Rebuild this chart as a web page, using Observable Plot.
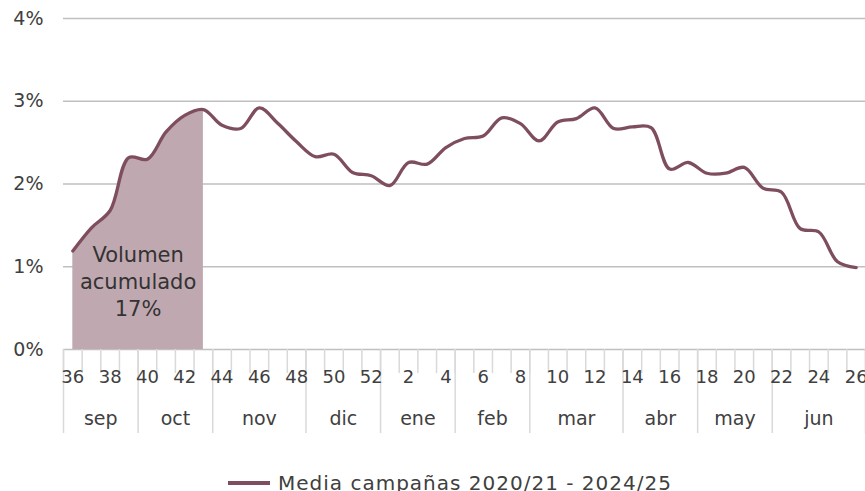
<!DOCTYPE html>
<html>
<head>
<meta charset="utf-8">
<script src="https://cdn.jsdelivr.net/npm/d3@7"></script>
<script src="https://cdn.jsdelivr.net/npm/@observablehq/plot@0.6"></script>
<style>
  html, body { margin: 0; padding: 0; background: #fff; }
  #legend { font-family: "DejaVu Sans", sans-serif; font-size: 20px; letter-spacing: 1px; color: #404040;
            height: 26px; line-height: 26px; display: flex; align-items: center; padding-left: 228px; }
  #legend .sw { width: 42px; height: 4px; background: #7e4e5e; margin-right: 8px; }
</style>
</head>
<body>
<div id="chart"></div>
<div id="legend"><span class="sw"></span><span>Media campañas 2020/21 - 2024/25</span></div>
<script>
const weeks = [36,37,38,39,40,41,42,43,44,45,46,47,48,49,50,51,52,1,2,3,4,5,6,7,8,9,10,11,12,13,14,15,16,17,18,19,20,21,22,23,24,25,26];
const values = [1.19,1.47,1.68,2.32,2.30,2.63,2.83,2.90,2.71,2.67,2.92,2.73,2.51,2.33,2.36,2.14,2.10,1.98,2.26,2.24,2.44,2.55,2.58,2.80,2.73,2.52,2.75,2.79,2.92,2.67,2.69,2.68,2.18,2.26,2.13,2.13,2.20,1.95,1.90,1.46,1.42,1.06,0.99];
const months = ["sep","oct","nov","dic","ene","feb","mar","abr","may","jun"];
const monthWeekCounts = [4,4,5,4,4,4,5,4,4,5];
const shadedUntilWeek = 43;
const annotation = "Volumen\nacumulado\n17%";
const yTicks = [0, 0.01, 0.02, 0.03, 0.04];

const data = weeks.map((w, i) => ({i, week: w, v: values[i] / 100}));
const shadeEnd = weeks.indexOf(shadedUntilWeek);
const shaded = data.filter(d => d.i <= shadeEnd);

// month boundaries and centers (in index units)
let acc = 0;
const monthData = months.map((m, k) => {
  const start = acc; acc += monthWeekCounts[k];
  return {m, start, end: acc, center: (start + acc - 1) / 2};
});
const monthBounds = [-0.5, ...monthData.map(d => d.end - 0.5)];
const weekBounds = d3.range(0, weeks.length + 1).map(k => k - 0.5);
const evenIdx = data.filter(d => d.week % 2 === 0).map(d => d.i);

const font = "DejaVu Sans, sans-serif";
const lineColor = "#7e4e5e";
const fillColor = "#c0a8b0";

const chart = Plot.plot({
  width: 865,
  height: 470,
  marginLeft: 63,
  marginRight: 0,
  marginTop: 18,
  marginBottom: 121,
  style: {fontFamily: font, fontSize: "18px", color: "#404040", background: "#fff", overflow: "visible"},
  x: {type: "linear", domain: [-0.5, weeks.length - 0.5], label: null},
  y: {domain: [0, 0.04], label: null},
  marks: [
    Plot.gridY(yTicks, {stroke: "#bfbfbf", strokeOpacity: 1, strokeWidth: 1.5}),
    Plot.axisY({ticks: yTicks, tickFormat: d3.format(".0%"), tickSize: 0, tickPadding: 20, fontSize: 19, fill: "#404040", label: null}),
    Plot.areaY(shaded, {x: "i", y: "v", curve: "catmull-rom", fill: fillColor}),
    Plot.line(data, {x: "i", y: "v", curve: "catmull-rom", stroke: lineColor, strokeWidth: 3.3}),
    Plot.text([annotation], {x: shadeEnd / 2, frameAnchor: "bottom", lineAnchor: "middle", dy: -69, text: d => d, fontSize: 21, lineHeight: 1.29, fill: "#333", letterSpacing: "0.6px"}),
    // short ticks at each week boundary
    Plot.axisX({ticks: weekBounds, tickSize: 24, tickFormat: () => "", stroke: "#d9d9d9", strokeWidth: 1.5, label: null}),
    // long separators at month boundaries
    Plot.axisX({ticks: monthBounds, tickSize: 84, tickFormat: () => "", stroke: "#d9d9d9", strokeWidth: 1.5, label: null}),
    // week labels
    Plot.axisX({ticks: evenIdx, tickSize: 0, tickPadding: 21, tickFormat: i => weeks[i], fontSize: 18, fill: "#404040", label: null}),
    // month labels
    Plot.text(monthData, {x: "center", text: "m", frameAnchor: "bottom", dy: 75, fontSize: 19, fill: "#404040"})
  ]
});
document.getElementById("chart").appendChild(chart);
</script>
</body>
</html>
